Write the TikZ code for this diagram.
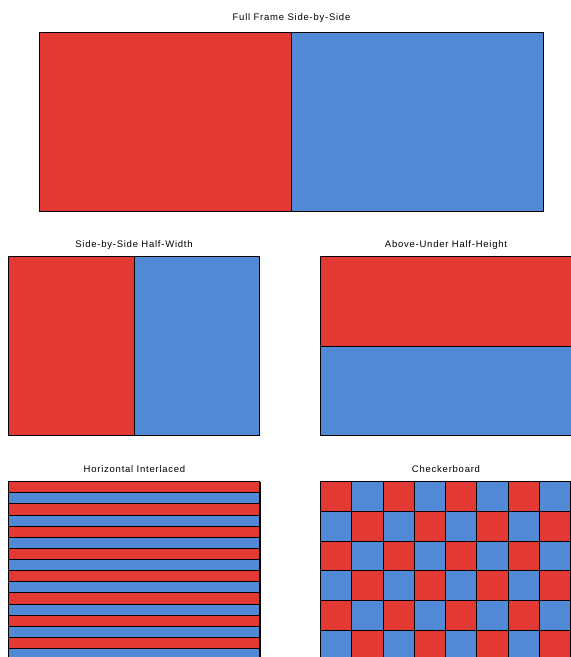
\documentclass[tikz,border=0pt]{standalone}
\usepackage{fontspec}
\setmainfont{Liberation Sans}[LetterSpace=8]
\usetikzlibrary{positioning}

\definecolor{leftred}{RGB}{227,57,52}
\definecolor{rightblue}{RGB}{82,137,214}

\begin{document}
\begin{tikzpicture}[
    x=1pt, y=-1pt,
    every node/.style={font=\fontsize{9.5}{10}\selectfont},
    panel/.style={rectangle, draw=black, line width=0.8pt, inner sep=0pt, minimum height=178pt},
    title/.style={inner sep=0pt, text depth=0pt},
    leye/.style={fill=leftred, draw=black, line width=0.8pt},
    reye/.style={fill=rightblue, draw=black, line width=0.8pt},
    cell0/.style={leye},
    cell1/.style={reye}
]
\useasboundingbox (0,0) rectangle (571,657);
\clip (0,0) rectangle (571,657);

% panels
\node[panel, minimum width=503pt] (full) at (291.5,122) {};
\node[panel, minimum width=250pt] (sbs) at (134,346) {};
\node[panel, minimum width=250pt] (au) at (446,346) {};
\node[panel, minimum width=251pt] (inter) at (134.5,571) {};
\node[panel, minimum width=250pt] (checker) at (446,571) {};

% full frame side-by-side
\draw[leye] (full.north west) rectangle (full.south);
\draw[reye] (full.north) rectangle (full.south east);

% half width
\draw[leye] (sbs.north west) rectangle (sbs.south);
\draw[reye] (sbs.north) rectangle (sbs.south east);

% half height
\draw[leye] (au.north west) rectangle (au.east);
\draw[reye] (au.west) rectangle (au.south east);

% interlaced rows
\begin{scope}[shift={(inter.north west)}]
  \foreach \i in {0,...,15} {
    \pgfmathtruncatemacro\k{mod(\i,2)}
    \draw[cell\k] (0,\i*11.125) rectangle +(251,11.125);
  }
\end{scope}

% checkerboard
\begin{scope}[shift={(checker.north west)}]
  \foreach \r in {0,...,5}
    \foreach \c in {0,...,7} {
      \pgfmathtruncatemacro\k{mod(\r+\c,2)}
      \draw[cell\k] (\c*31.25,\r*29.667) rectangle +(31.25,29.667);
    }
\end{scope}

% titles
\node[title, above=12pt of full.north] (tfull) {Full Frame Side-by-Side};
\node[title, above=8.5pt of sbs.north] (tsbs) {Side-by-Side Half-Width};
\node[title, above=8.5pt of au.north] (tau) {Above-Under Half-Height};
\node[title, above=8.5pt of inter.north] (tinter) {Horizontal Interlaced};
\node[title, above=8.5pt of checker.north] (tchecker) {Checkerboard};

\end{tikzpicture}
\end{document}
